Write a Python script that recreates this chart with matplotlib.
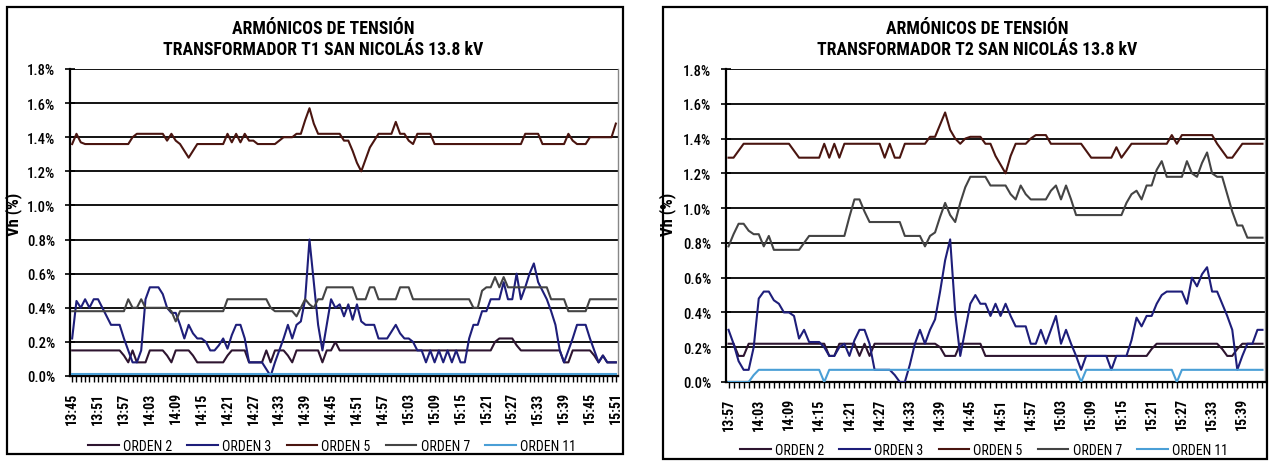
import matplotlib
matplotlib.use("Agg")
import matplotlib.pyplot as plt
from matplotlib.patches import Rectangle
from matplotlib.ticker import MultipleLocator, FuncFormatter
from matplotlib import font_manager

# prefer a narrow sans face when one is installed
_available = {f.name for f in font_manager.fontManager.ttflist}
_family = [f for f in ["Liberation Sans Narrow", "Arial Narrow", "Roboto Condensed",
                       "DejaVu Sans Condensed", "Liberation Sans", "DejaVu Sans"]
           if f in _available]
plt.rcParams['font.family'] = _family or ["DejaVu Sans"]

# ---------------- data: transformer T1 (13:45 - 15:51, one value per minute) ----------------
t1_ticks = ["13:45", "13:51", "13:57", "14:03", "14:09", "14:15", "14:21", "14:27",
            "14:33", "14:39", "14:45", "14:51", "14:57", "15:03", "15:09", "15:15",
            "15:21", "15:27", "15:33", "15:39", "15:45", "15:51"]

t1_orden2 = [0.15, 0.15, 0.15, 0.15, 0.15, 0.15, 0.15, 0.15, 0.15, 0.15,
             0.15, 0.15, 0.12, 0.08, 0.15, 0.08, 0.08, 0.08, 0.15, 0.15,
             0.15, 0.15, 0.12, 0.08, 0.15, 0.15, 0.15, 0.15, 0.12, 0.08,
             0.08, 0.08, 0.08, 0.08, 0.08, 0.08, 0.12, 0.15, 0.15, 0.15,
             0.15, 0.08, 0.08, 0.08, 0.08, 0.15, 0.08, 0.15, 0.15, 0.15,
             0.12, 0.08, 0.15, 0.15, 0.15, 0.15, 0.15, 0.15, 0.08, 0.15,
             0.15, 0.20, 0.15, 0.15, 0.15, 0.15, 0.15, 0.15, 0.15, 0.15,
             0.15, 0.15, 0.15, 0.15, 0.15, 0.15, 0.15, 0.15, 0.15, 0.15,
             0.15, 0.15, 0.15, 0.15, 0.15, 0.15, 0.15, 0.15, 0.15, 0.15,
             0.15, 0.15, 0.15, 0.15, 0.15, 0.15, 0.15, 0.15, 0.20, 0.22,
             0.22, 0.22, 0.22, 0.18, 0.15, 0.15, 0.15, 0.15, 0.15, 0.15,
             0.15, 0.15, 0.15, 0.15, 0.08, 0.08, 0.15, 0.15, 0.15, 0.15,
             0.15, 0.12, 0.08, 0.12, 0.08, 0.08, 0.08]

t1_orden3 = [0.22, 0.44, 0.40, 0.45, 0.40, 0.45, 0.45, 0.40, 0.35, 0.30,
             0.30, 0.30, 0.22, 0.15, 0.08, 0.08, 0.15, 0.45, 0.52, 0.52,
             0.52, 0.48, 0.40, 0.37, 0.37, 0.30, 0.22, 0.30, 0.25, 0.22,
             0.22, 0.20, 0.15, 0.15, 0.18, 0.22, 0.16, 0.24, 0.30, 0.30,
             0.22, 0.08, 0.08, 0.08, 0.08, 0.04, 0.00, 0.08, 0.15, 0.22,
             0.30, 0.22, 0.30, 0.32, 0.45, 0.80, 0.55, 0.30, 0.15, 0.30,
             0.45, 0.40, 0.42, 0.35, 0.42, 0.33, 0.42, 0.32, 0.30, 0.30,
             0.30, 0.22, 0.22, 0.22, 0.26, 0.30, 0.25, 0.22, 0.22, 0.20,
             0.15, 0.15, 0.08, 0.15, 0.08, 0.15, 0.08, 0.15, 0.08, 0.15,
             0.08, 0.08, 0.22, 0.30, 0.30, 0.38, 0.38, 0.45, 0.45, 0.45,
             0.55, 0.45, 0.45, 0.60, 0.45, 0.52, 0.60, 0.66, 0.55, 0.50,
             0.45, 0.38, 0.30, 0.15, 0.08, 0.15, 0.22, 0.30, 0.30, 0.30,
             0.22, 0.15, 0.08, 0.12, 0.08, 0.08, 0.08]

t1_orden5 = [1.36, 1.42, 1.37, 1.36, 1.36, 1.36, 1.36, 1.36, 1.36, 1.36,
             1.36, 1.36, 1.36, 1.36, 1.40, 1.42, 1.42, 1.42, 1.42, 1.42,
             1.42, 1.42, 1.38, 1.42, 1.38, 1.36, 1.32, 1.28, 1.32, 1.36,
             1.36, 1.36, 1.36, 1.36, 1.36, 1.36, 1.42, 1.37, 1.42, 1.37,
             1.42, 1.38, 1.38, 1.36, 1.36, 1.36, 1.36, 1.36, 1.38, 1.40,
             1.40, 1.40, 1.42, 1.42, 1.50, 1.57, 1.48, 1.42, 1.42, 1.42,
             1.42, 1.42, 1.42, 1.38, 1.38, 1.32, 1.25, 1.20, 1.27, 1.34,
             1.38, 1.42, 1.42, 1.42, 1.42, 1.49, 1.42, 1.42, 1.38, 1.36,
             1.42, 1.42, 1.42, 1.42, 1.36, 1.36, 1.36, 1.36, 1.36, 1.36,
             1.36, 1.36, 1.36, 1.36, 1.36, 1.36, 1.36, 1.36, 1.36, 1.36,
             1.36, 1.36, 1.36, 1.36, 1.36, 1.42, 1.42, 1.42, 1.42, 1.36,
             1.36, 1.36, 1.36, 1.36, 1.36, 1.42, 1.38, 1.36, 1.36, 1.36,
             1.40, 1.40, 1.40, 1.40, 1.40, 1.40, 1.48]

t1_orden7 = [0.38, 0.38, 0.38, 0.38, 0.38, 0.38, 0.38, 0.38, 0.38, 0.38,
             0.38, 0.38, 0.38, 0.45, 0.40, 0.40, 0.45, 0.40, 0.40, 0.40,
             0.40, 0.40, 0.40, 0.38, 0.32, 0.38, 0.38, 0.38, 0.38, 0.38,
             0.38, 0.38, 0.38, 0.38, 0.38, 0.38, 0.45, 0.45, 0.45, 0.45,
             0.45, 0.45, 0.45, 0.45, 0.45, 0.45, 0.40, 0.38, 0.38, 0.38,
             0.38, 0.38, 0.35, 0.40, 0.45, 0.42, 0.40, 0.45, 0.45, 0.52,
             0.52, 0.52, 0.52, 0.52, 0.52, 0.52, 0.45, 0.45, 0.45, 0.52,
             0.52, 0.45, 0.45, 0.45, 0.45, 0.45, 0.52, 0.52, 0.52, 0.45,
             0.45, 0.45, 0.45, 0.45, 0.45, 0.45, 0.45, 0.45, 0.45, 0.45,
             0.45, 0.45, 0.45, 0.40, 0.40, 0.50, 0.52, 0.52, 0.58, 0.52,
             0.58, 0.52, 0.52, 0.52, 0.52, 0.52, 0.52, 0.52, 0.52, 0.52,
             0.52, 0.45, 0.45, 0.45, 0.45, 0.38, 0.38, 0.38, 0.38, 0.38,
             0.45, 0.45, 0.45, 0.45, 0.45, 0.45, 0.45]

t1_orden11 = [0.01, 0.01, 0.01, 0.01, 0.01, 0.01, 0.01, 0.01, 0.01, 0.01,
              0.01, 0.01, 0.01, 0.01, 0.01, 0.01, 0.01, 0.01, 0.01, 0.01,
              0.01, 0.01, 0.01, 0.01, 0.01, 0.01, 0.01, 0.01, 0.01, 0.01,
              0.01, 0.01, 0.01, 0.01, 0.01, 0.01, 0.01, 0.01, 0.01, 0.01,
              0.01, 0.01, 0.01, 0.01, 0.01, 0.01, 0.01, 0.01, 0.01, 0.01,
              0.01, 0.01, 0.01, 0.01, 0.01, 0.01, 0.01, 0.01, 0.01, 0.01,
              0.01, 0.01, 0.01, 0.01, 0.01, 0.01, 0.01, 0.01, 0.01, 0.01,
              0.01, 0.01, 0.01, 0.01, 0.01, 0.01, 0.01, 0.01, 0.01, 0.01,
              0.01, 0.01, 0.01, 0.01, 0.01, 0.01, 0.01, 0.01, 0.01, 0.01,
              0.01, 0.01, 0.01, 0.01, 0.01, 0.01, 0.01, 0.01, 0.01, 0.01,
              0.01, 0.01, 0.01, 0.01, 0.01, 0.01, 0.01, 0.01, 0.01, 0.01,
              0.01, 0.01, 0.01, 0.01, 0.01, 0.01, 0.01, 0.01, 0.01, 0.01,
              0.01, 0.01, 0.01, 0.01, 0.01, 0.01, 0.01]

# ---------------- data: transformer T2 (13:57 - 15:43, one value per minute) ----------------
t2_ticks = ["13:57", "14:03", "14:09", "14:15", "14:21", "14:27", "14:33", "14:39",
            "14:45", "14:51", "14:57", "15:03", "15:09", "15:15", "15:21", "15:27",
            "15:33", "15:39"]

t2_orden2 = [0.22, 0.22, 0.15, 0.15, 0.22, 0.22, 0.22, 0.22, 0.22, 0.22,
             0.22, 0.22, 0.22, 0.22, 0.22, 0.22, 0.22, 0.22, 0.22, 0.22,
             0.15, 0.15, 0.22, 0.22, 0.22, 0.22, 0.15, 0.22, 0.15, 0.22,
             0.22, 0.22, 0.22, 0.22, 0.22, 0.22, 0.22, 0.22, 0.22, 0.22,
             0.22, 0.22, 0.20, 0.15, 0.15, 0.15, 0.22, 0.22, 0.22, 0.22,
             0.22, 0.15, 0.15, 0.15, 0.15, 0.15, 0.15, 0.15, 0.15, 0.15,
             0.15, 0.15, 0.15, 0.15, 0.15, 0.15, 0.15, 0.15, 0.15, 0.15,
             0.15, 0.15, 0.15, 0.15, 0.15, 0.15, 0.15, 0.15, 0.15, 0.15,
             0.15, 0.15, 0.15, 0.15, 0.19, 0.22, 0.22, 0.22, 0.22, 0.22,
             0.22, 0.22, 0.22, 0.22, 0.22, 0.22, 0.22, 0.22, 0.19, 0.15,
             0.15, 0.19, 0.22, 0.22, 0.22, 0.22, 0.22]

t2_orden3 = [0.30, 0.22, 0.12, 0.07, 0.07, 0.20, 0.48, 0.52, 0.52, 0.47,
             0.45, 0.40, 0.40, 0.38, 0.25, 0.30, 0.23, 0.23, 0.23, 0.20,
             0.15, 0.15, 0.20, 0.22, 0.15, 0.24, 0.30, 0.30, 0.22, 0.07,
             0.07, 0.07, 0.07, 0.04, 0.00, 0.00, 0.10, 0.22, 0.30, 0.22,
             0.30, 0.36, 0.52, 0.70, 0.82, 0.40, 0.15, 0.30, 0.45, 0.50,
             0.45, 0.45, 0.38, 0.45, 0.38, 0.45, 0.38, 0.32, 0.32, 0.32,
             0.22, 0.22, 0.30, 0.22, 0.30, 0.38, 0.22, 0.30, 0.22, 0.15,
             0.07, 0.15, 0.15, 0.15, 0.15, 0.15, 0.07, 0.15, 0.15, 0.15,
             0.24, 0.37, 0.32, 0.38, 0.38, 0.45, 0.50, 0.52, 0.52, 0.52,
             0.52, 0.45, 0.60, 0.55, 0.62, 0.66, 0.52, 0.52, 0.45, 0.38,
             0.30, 0.07, 0.15, 0.22, 0.22, 0.30, 0.30]

t2_orden5 = [1.29, 1.29, 1.33, 1.37, 1.37, 1.37, 1.37, 1.37, 1.37, 1.37,
             1.37, 1.37, 1.37, 1.33, 1.29, 1.29, 1.29, 1.29, 1.29, 1.37,
             1.29, 1.37, 1.29, 1.37, 1.37, 1.37, 1.37, 1.37, 1.37, 1.37,
             1.37, 1.29, 1.37, 1.29, 1.29, 1.37, 1.37, 1.37, 1.37, 1.37,
             1.41, 1.41, 1.48, 1.55, 1.45, 1.40, 1.37, 1.40, 1.41, 1.41,
             1.41, 1.37, 1.37, 1.30, 1.25, 1.20, 1.30, 1.37, 1.37, 1.37,
             1.40, 1.42, 1.42, 1.42, 1.37, 1.37, 1.37, 1.37, 1.37, 1.37,
             1.37, 1.33, 1.29, 1.29, 1.29, 1.29, 1.29, 1.35, 1.29, 1.33,
             1.37, 1.37, 1.37, 1.37, 1.37, 1.37, 1.37, 1.37, 1.42, 1.37,
             1.42, 1.42, 1.42, 1.42, 1.42, 1.42, 1.42, 1.37, 1.33, 1.29,
             1.29, 1.33, 1.37, 1.37, 1.37, 1.37, 1.37]

t2_orden7 = [0.78, 0.85, 0.91, 0.91, 0.87, 0.85, 0.85, 0.78, 0.84, 0.76,
             0.76, 0.76, 0.76, 0.76, 0.76, 0.80, 0.84, 0.84, 0.84, 0.84,
             0.84, 0.84, 0.84, 0.84, 0.95, 1.05, 1.05, 0.98, 0.92, 0.92,
             0.92, 0.92, 0.92, 0.92, 0.92, 0.84, 0.84, 0.84, 0.84, 0.78,
             0.84, 0.86, 0.95, 1.03, 0.96, 0.92, 1.03, 1.12, 1.18, 1.18,
             1.18, 1.18, 1.13, 1.13, 1.13, 1.13, 1.08, 1.05, 1.13, 1.08,
             1.05, 1.05, 1.05, 1.05, 1.10, 1.13, 1.05, 1.13, 1.05, 0.96,
             0.96, 0.96, 0.96, 0.96, 0.96, 0.96, 0.96, 0.96, 0.96, 1.03,
             1.08, 1.10, 1.05, 1.13, 1.13, 1.22, 1.27, 1.18, 1.18, 1.18,
             1.18, 1.27, 1.20, 1.18, 1.26, 1.32, 1.20, 1.18, 1.18, 1.08,
             0.98, 0.90, 0.90, 0.83, 0.83, 0.83, 0.83]

t2_orden11 = [0.00, 0.00, 0.00, 0.00, 0.00, 0.04, 0.07, 0.07, 0.07, 0.07,
              0.07, 0.07, 0.07, 0.07, 0.07, 0.07, 0.07, 0.07, 0.07, 0.00,
              0.07, 0.07, 0.07, 0.07, 0.07, 0.07, 0.07, 0.07, 0.07, 0.07,
              0.07, 0.07, 0.07, 0.07, 0.07, 0.07, 0.07, 0.07, 0.07, 0.07,
              0.07, 0.07, 0.07, 0.07, 0.07, 0.07, 0.07, 0.07, 0.07, 0.07,
              0.07, 0.07, 0.07, 0.07, 0.07, 0.07, 0.07, 0.07, 0.07, 0.07,
              0.07, 0.07, 0.07, 0.07, 0.07, 0.07, 0.07, 0.07, 0.07, 0.07,
              0.00, 0.07, 0.07, 0.07, 0.07, 0.07, 0.07, 0.07, 0.07, 0.07,
              0.07, 0.07, 0.07, 0.07, 0.07, 0.07, 0.07, 0.07, 0.07, 0.00,
              0.07, 0.07, 0.07, 0.07, 0.07, 0.07, 0.07, 0.07, 0.07, 0.07,
              0.07, 0.07, 0.07, 0.07, 0.07, 0.07, 0.07]

series_names = ["ORDEN 2", "ORDEN 3", "ORDEN 5", "ORDEN 7", "ORDEN 11"]
series_colors = ["#2e1530", "#1e1e7a", "#4a1510", "#444444", "#4a9fd6"]

# ---------------- figure ----------------
W, H = 1269, 464
fig = plt.figure(figsize=(W / 100, H / 100), dpi=100)


def box(x0, y0, x1, y1):
    """Figure rectangle from pixel edges measured from the top-left corner."""
    return [x0 / W, 1 - y1 / H, (x1 - x0) / W, (y1 - y0) / H]


def draw_panel(rect, data, ticks, ylabel_xy):
    ax = fig.add_axes(rect)
    n = len(data[0])
    xs = list(range(n))
    lines = []
    for vals, name, col in zip(data, series_names, series_colors):
        ln, = ax.plot(xs, vals, color=col, lw=1.5, label=name,
                      solid_joinstyle="round", zorder=3)
        lines.append(ln)
    ax.set_xlim(-0.5, n - 0.5)
    ax.set_ylim(0, 1.8)
    ax.yaxis.set_major_locator(MultipleLocator(0.2))
    ax.yaxis.set_major_formatter(FuncFormatter(lambda v, p: f"{v:.1f}%"))
    ax.grid(axis="y", color="black", lw=1.3)
    ax.set_axisbelow(True)

    ax.set_xticks(range(0, 6 * len(ticks), 6))
    ax.set_xticklabels(ticks, rotation=90, fontsize=10, fontweight="bold")
    ax.set_xticks(range(n), minor=True)
    ax.tick_params(axis="x", which="both", direction="out", length=4,
                   width=1.0, color="black", pad=7)
    ax.tick_params(axis="y", direction="inout", length=7, width=1.2, pad=7,
                   labelsize=10.5)
    for lab in ax.get_yticklabels():
        lab.set_fontweight("medium")

    ax.spines["top"].set_visible(False)
    ax.spines["right"].set_color("#888888")
    ax.spines["right"].set_linewidth(1.0)
    ax.spines["left"].set_linewidth(1.6)
    ax.spines["bottom"].set_linewidth(1.6)
    ax.set_ylabel("Vh (%)", fontsize=12, fontweight="bold")
    ax.yaxis.set_label_coords(*ylabel_xy)
    return ax, lines


ax1, lines1 = draw_panel(box(70, 70, 618, 377),
                         [t1_orden2, t1_orden3, t1_orden5, t1_orden7, t1_orden11],
                         t1_ticks, (-0.088, 0.53))
ax2, lines2 = draw_panel(box(726, 70, 1265, 383),
                         [t2_orden2, t2_orden3, t2_orden5, t2_orden7, t2_orden11],
                         t2_ticks, (-0.093, 0.54))

# chart area borders
for x0, y0, x1, y1 in [(7, 8, 623, 455), (663, 8, 1267, 460)]:
    r = box(x0, y0, x1, y1)
    fig.patches.append(Rectangle((r[0], r[1]), r[2], r[3], transform=fig.transFigure,
                                 fill=False, edgecolor="black", lw=1.6))

# titles
for cx, num in [(323, "T1"), (977, "T2")]:
    fig.text(cx / W, 1 - 29 / H, "ARMÓNICOS DE TENSIÓN", ha="center", va="center",
             fontsize=12.8, fontweight="bold")
    fig.text(cx / W, 1 - 50 / H, f"TRANSFORMADOR {num} SAN NICOLÁS 13.8 kV",
             ha="center", va="center", fontsize=12.8, fontweight="bold")

# legends
legend_kw = dict(loc="center", ncol=5, frameon=False, fontsize=10, handlelength=2.2,
                 handletextpad=0.3, columnspacing=1.1)
fig.legend(lines1, series_names, bbox_to_anchor=(332 / W, 1 - 447 / H), **legend_kw)
fig.legend(lines2, series_names, bbox_to_anchor=(984 / W, 1 - 451 / H), **legend_kw)

fig.savefig("out.png", dpi=100)
